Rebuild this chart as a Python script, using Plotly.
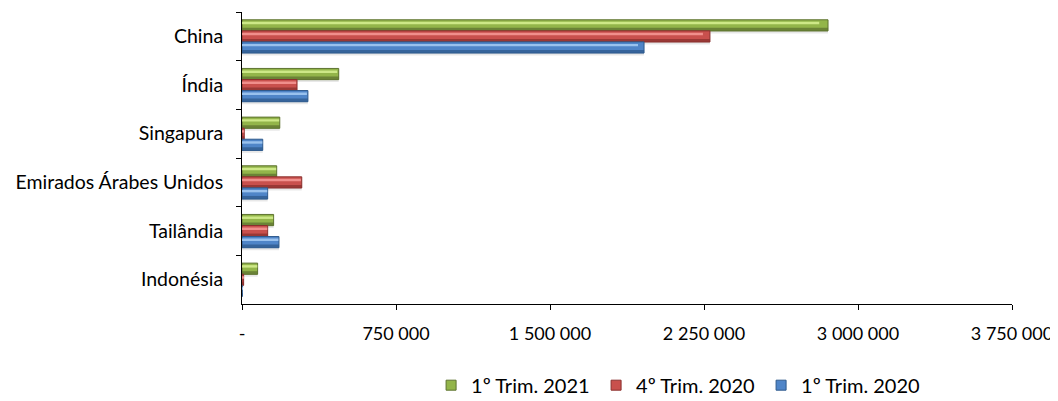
import plotly.graph_objects as go

categories = ["China", "Índia", "Singapura", "Emirados Árabes Unidos", "Tailândia", "Indonésia"]
trim1_2021 = [2854000, 471000, 184000, 169000, 154000, 76000]
trim4_2020 = [2279000, 268000, 11000, 291000, 125000, 8000]
trim1_2020 = [1958000, 321000, 101000, 125000, 180000, 1000]

series_names = ["1º Trim. 2021", "4º Trim. 2020", "1º Trim. 2020"]
tick_vals = [0, 750000, 1500000, 2250000, 3000000, 3750000]
tick_text = ["-", "750 000", "1 500 000", "2 250 000", "3 000 000", "3 750 000"]

colors = ["#93B54A", "#C9504D", "#4F85C8"]
dark = ["#5E7330", "#8A302E", "#2E5A8C"]
light = ["#D8F192", "#F79A98", "#A6CCF4"]

series = [trim1_2021, trim4_2020, trim1_2020]
W = 0.23
offsets = [-0.34, -0.113, 0.114]
FONT = "Lato, Open Sans, sans-serif"

fig = go.Figure()
# soft shadows
for i, vals in enumerate(series):
    fig.add_trace(go.Bar(y=categories, x=vals, orientation="h", width=W, offset=offsets[i] + 0.05,
                         marker=dict(color="rgba(0,0,0,0.09)", line=dict(width=0)),
                         showlegend=False, hoverinfo="skip"))
for i, vals in enumerate(series):
    fig.add_trace(go.Bar(y=categories, x=vals, orientation="h", width=W, offset=offsets[i],
                         name=series_names[i],
                         marker=dict(color=colors[i], line=dict(color=dark[i], width=1)),
                         showlegend=False))
    fig.add_trace(go.Bar(y=categories, x=[v * 0.985 for v in vals], orientation="h", width=W * 0.22,
                         offset=offsets[i] + W * 0.18,
                         marker=dict(color=light[i], line=dict(width=0)), opacity=0.85,
                         showlegend=False, hoverinfo="skip"))
    fig.add_trace(go.Bar(y=categories, x=vals, orientation="h", width=W * 0.28,
                         offset=offsets[i] + W * 0.72,
                         marker=dict(color=dark[i], line=dict(width=0)), opacity=0.75,
                         showlegend=False, hoverinfo="skip"))

# legend entries (square markers)
for i in range(3):
    fig.add_trace(go.Scatter(x=[None], y=[None], mode="markers", name=series_names[i],
                             marker=dict(symbol="square", size=10, color=colors[i],
                                         line=dict(color=dark[i], width=1)),
                             showlegend=True, hoverinfo="skip"))

fig.update_layout(
    width=1050, height=393,
    margin=dict(l=234, r=46, t=4, b=97, autoexpand=False),
    barmode="overlay",
    plot_bgcolor="white", paper_bgcolor="white",
    font=dict(family=FONT, size=19, color="#000000"),
    legend=dict(orientation="h", x=0.567, xanchor="center", y=-0.278, yanchor="middle",
                font=dict(size=20), traceorder="normal", itemwidth=30, entrywidth=120,
                entrywidthmode="pixels"),
)
fig.update_xaxes(range=[0, 3750000], tickvals=tick_vals, ticktext=tick_text,
                 showgrid=False, zeroline=False, showline=True, linecolor="#000000", linewidth=1,
                 ticks="outside", ticklen=5, tickcolor="#000000", ticklabelstandoff=8,
                 tickfont=dict(size=18))
fig.update_yaxes(categoryorder="array", categoryarray=categories,
                 range=[5.5, -0.5],
                 showgrid=False, showline=True, linecolor="#000000", linewidth=1,
                 ticks="outside", ticklen=5, tickcolor="#000000", tickson="boundaries",
                 ticklabelstandoff=14, tickfont=dict(size=19.5))

fig.write_html("out.html")
